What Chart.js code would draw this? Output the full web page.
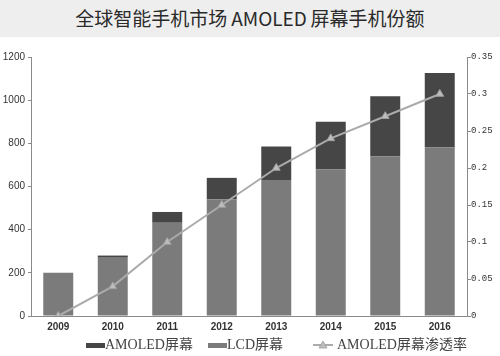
<!DOCTYPE html>
<html>
<head>
<meta charset="utf-8">
<script src="https://cdn.jsdelivr.net/npm/chart.js@4.4.0/dist/chart.umd.min.js"></script>
<style>
  html, body { margin:0; padding:0; background:#fff; }
  #wrap { position:relative; width:500px; height:356px; overflow:hidden; background:#fff; }
  #title { position:absolute; left:0; top:0; width:500px; height:37px; background:#eeeeee;
    font-family:"Noto Sans CJK SC","Noto Sans",sans-serif; font-size:19px; color:#2a2a2a;
    text-align:center; line-height:35px; }
  #box { position:absolute; left:0; top:37px; width:500px; height:319px; }
  .lg { position:absolute; top:336px; height:18px; line-height:18px; white-space:nowrap;
    font-family:"Liberation Serif","Noto Sans CJK SC",serif; font-size:14px; color:#444; }
  .sw { position:absolute; top:7px; width:19px; height:5px; }
</style>
</head>
<body>
<div id="wrap">
  <div id="title">全球智能手机市场&#8201;AMOLED&#8201;屏幕手机份额</div>
  <div id="box"><canvas id="c" width="500" height="319"></canvas></div>
</div>
<script>
const categories = ["2009","2010","2011","2012","2013","2014","2015","2016"];
const lcdValues    = [200, 270, 432, 540, 630, 680, 740, 782];
const amoledValues = [0, 10, 50, 100, 155, 220, 278, 344];
const shareValues  = [0, 0.04, 0.10, 0.15, 0.20, 0.24, 0.27, 0.30];
const leftTicks  = [0, 200, 400, 600, 800, 1000, 1200];
const rightTicks = [0, 0.05, 0.1, 0.15, 0.2, 0.25, 0.3, 0.35];
const seriesNames = ["AMOLED屏幕", "LCD屏幕", "AMOLED屏幕渗透率"];

const cAmoled = "#464646", cLcd = "#7b7b7b", cLine = "#ababab";

const tickFont = { family: "Liberation Sans", size: 10 };

new Chart(document.getElementById("c"), {
  data: {
    labels: categories,
    datasets: [
      { type: "bar", label: seriesNames[1], data: lcdValues, backgroundColor: cLcd,
        yAxisID: "y", stack: "s", order: 3, barPercentage: 0.55, categoryPercentage: 1 },
      { type: "bar", label: seriesNames[0], data: amoledValues, backgroundColor: cAmoled,
        yAxisID: "y", stack: "s", order: 3, barPercentage: 0.55, categoryPercentage: 1 },
      { type: "line", label: seriesNames[2], data: shareValues, yAxisID: "y1", order: 0,
        borderColor: cLine, borderWidth: 2, pointStyle: "triangle", pointRadius: 4.5,
        pointBackgroundColor: "#bdbdbd", pointBorderColor: "#a0a0a0", pointBorderWidth: 1,
        tension: 0, fill: false }
    ]
  },
  options: {
    responsive: false, animation: false,
    layout: { padding: { top: 20, left: 0, right: 0, bottom: 0 } },
    plugins: { legend: { display: false }, title: { display: false }, tooltip: { enabled: false } },
    scales: {
      x: {
        stacked: true, offset: true,
        grid: { display: false, drawTicks: false },
        border: { display: true, color: "#8a8a8a", width: 1 },
        ticks: { color: "#333", font: { family: "Liberation Sans", size: 10, weight: "bold" }, padding: 5, maxRotation: 0 },
        afterFit: s => { s.height = 40; }
      },
      y: {
        stacked: true, position: "left", min: 0, max: 1200,
        afterBuildTicks: s => { s.ticks = leftTicks.map(v => ({ value: v })); },
        grid: { drawOnChartArea: false, drawTicks: true, tickLength: 3, color: "#8a8a8a" },
        border: { display: true, color: "#8a8a8a", width: 1 },
        ticks: { color: "#333", font: tickFont, padding: 3, callback: v => String(v) },
        afterFit: s => { s.width = 31; }
      },
      y1: {
        position: "right", min: 0, max: 0.35,
        afterBuildTicks: s => { s.ticks = rightTicks.map(v => ({ value: v })); },
        grid: { drawOnChartArea: false, drawTicks: true, tickLength: 4, color: "#8a8a8a" },
        border: { display: true, color: "#8a8a8a", width: 1 },
        ticks: { color: "#333", font: { family: "Liberation Mono", size: 9 }, padding: 0,
          callback: v => String(Math.round(v * 100) / 100) },
        afterFit: s => { s.width = 33; }
      }
    }
  }
});

// HTML legend built from the series names
const wrap = document.getElementById("wrap");
const items = [
  { name: seriesNames[0], color: cAmoled, kind: "box", left: 86 },
  { name: seriesNames[1], color: cLcd, kind: "box", left: 208 },
  { name: seriesNames[2], color: cLine, kind: "line", left: 313 }
];
items.forEach(it => {
  const d = document.createElement("div");
  d.className = "lg";
  d.style.left = it.left + "px";
  if (it.kind === "box") {
    d.innerHTML = '<span class="sw" style="left:0;background:' + it.color + '"></span>' +
      '<span style="margin-left:19px">' + it.name + '</span>';
  } else {
    d.innerHTML = '<svg style="position:absolute;left:0;top:4px" width="20" height="10">' +
      '<line x1="0" y1="5" x2="20" y2="5" stroke="' + it.color + '" stroke-width="2"/>' +
      '<polygon points="10,1 14,8 6,8" fill="#bdbdbd" stroke="#a0a0a0" stroke-width="0.8"/></svg>' +
      '<span style="margin-left:24px">' + it.name + '</span>';
  }
  wrap.appendChild(d);
});
</script>
</body>
</html>
